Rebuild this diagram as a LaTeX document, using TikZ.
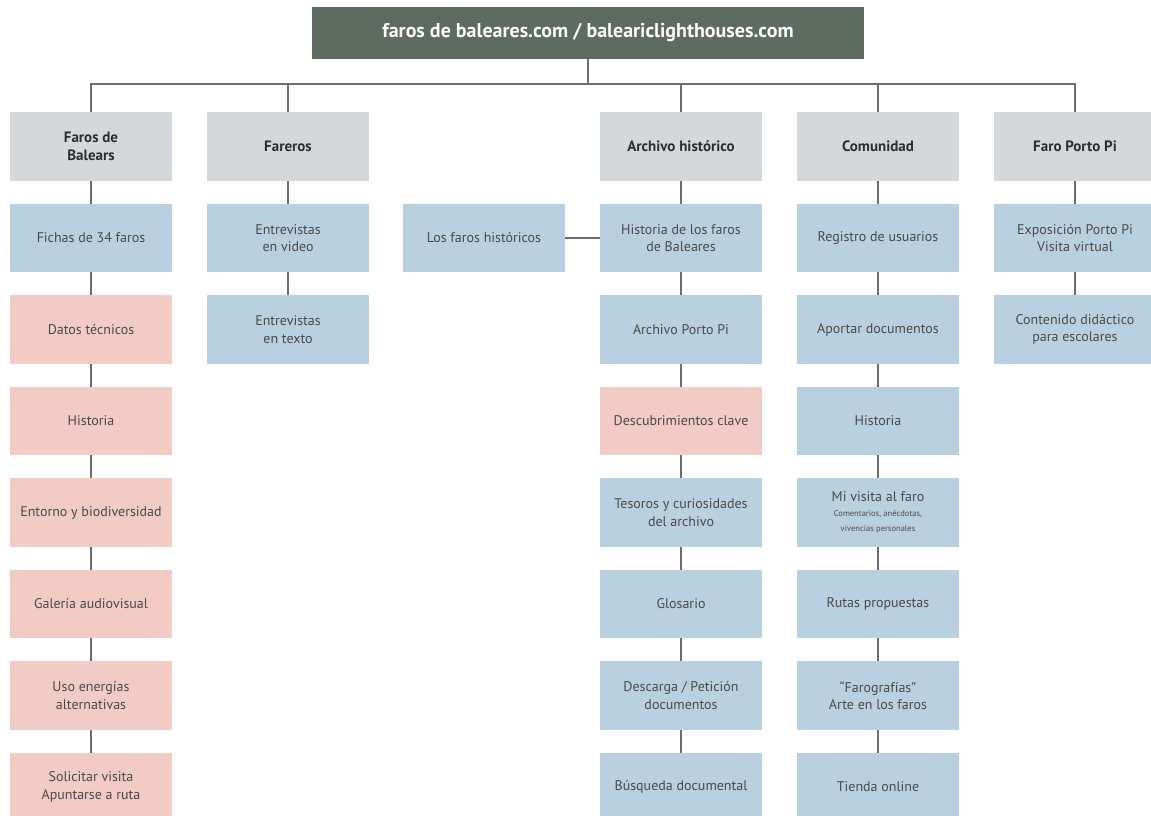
\documentclass[tikz,border=0pt]{standalone}
\usepackage{fontspec}
\setmainfont{PT Sans}
\begin{document}
\begin{tikzpicture}[x=1pt,y=-1pt,
  box/.style={draw=none,minimum width=162pt,minimum height=68.5pt,inner sep=0pt,align=center,
    font=\fontsize{14}{17.7}\selectfont,text=txtc},
  hdr/.style={box,fill=hdrc,text=hdrtxt,font=\fontsize{15}{18}\selectfont\bfseries},
  blu/.style={box,fill=bluc},
  pnk/.style={box,fill=pnkc},
  topbox/.style={fill=topc,minimum width=552pt,minimum height=52pt,inner sep=0pt,text=white,
    font=\fontsize{20}{24}\selectfont\bfseries},
  link/.style={draw=linec,line width=1.8pt}
]
\definecolor{hdrc}{HTML}{D5D8DB}
\definecolor{bluc}{HTML}{B9D0E0}
\definecolor{pnkc}{HTML}{F3CBC5}
\definecolor{topc}{HTML}{5E6B60}
\definecolor{linec}{HTML}{6E6E6E}
\definecolor{txtc}{HTML}{4A4A4A}
\definecolor{hdrtxt}{HTML}{2E2E2E}
\useasboundingbox (0,0) rectangle (1151,816);
\fill[white] (0,0) rectangle (1151,816);

\def\cA{91}\def\cB{288}\def\cC{484}\def\cD{681}\def\cE{878}\def\cF{1075}
\def\rO{146.5}\def\rI{238}\def\rII{329.5}\def\rIII{421}\def\rIV{512.5}\def\rV{604}\def\rVI{695.5}\def\rVII{787}

\node[topbox] (top) at (588,33) {faros de baleares.com / baleariclighthouses.com};
\coordinate (bus) at (588,84);

% column 1
\node[hdr] (a0) at (\cA,\rO) {Faros de\\Balears};
\node[blu] (a1) at (\cA,\rI) {Fichas de 34 faros};
\node[pnk] (a2) at (\cA,\rII) {Datos técnicos};
\node[pnk] (a3) at (\cA,\rIII) {Historia};
\node[pnk] (a4) at (\cA,\rIV) {Entorno y biodiversidad};
\node[pnk] (a5) at (\cA,\rV) {Galería audiovisual};
\node[pnk] (a6) at (\cA,\rVI) {Uso energías\\alternativas};
\node[pnk] (a7) at (\cA,\rVII) {Solicitar visita\\Apuntarse a ruta};

% column 2
\node[hdr] (b0) at (\cB,\rO) {Fareros};
\node[blu] (b1) at (\cB,\rI) {Entrevistas\\en video};
\node[blu] (b2) at (\cB,\rII) {Entrevistas\\en texto};

% column 3
\node[blu] (c1) at (\cC,\rI) {Los faros históricos};

% column 4
\node[hdr] (d0) at (\cD,\rO) {Archivo histórico};
\node[blu] (d1) at (\cD,\rI) {Historia de los faros\\de Baleares};
\node[blu] (d2) at (\cD,\rII) {Archivo Porto Pi};
\node[pnk] (d3) at (\cD,\rIII) {Descubrimientos clave};
\node[blu] (d4) at (\cD,\rIV) {Tesoros y curiosidades\\del archivo};
\node[blu] (d5) at (\cD,\rV) {Glosario};
\node[blu] (d6) at (\cD,\rVI) {Descarga / Petición\\documentos};
\node[blu] (d7) at (\cD,\rVII) {Búsqueda documental};

% column 5
\node[hdr] (e0) at (\cE,\rO) {Comunidad};
\node[blu] (e1) at (\cE,\rI) {Registro de usuarios};
\node[blu] (e2) at (\cE,\rII) {Aportar documentos};
\node[blu] (e3) at (\cE,\rIII) {Historia};
\node[blu] (e4) at (\cE,\rIV) {Mi visita al faro\\[-3pt]{\fontsize{8.5}{10}\selectfont Comentarios, anécdotas,}\\[-3pt]{\fontsize{8.5}{10}\selectfont vivencias personales}};
\node[blu] (e5) at (\cE,\rV) {Rutas propuestas};
\node[blu] (e6) at (\cE,\rVI) {“Farografías”\\Arte en los faros};
\node[blu] (e7) at (\cE,\rVII) {Tienda online};

% column 6
\node[hdr] (f0) at (\cF,\rO) {Faro Porto Pi};
\node[blu] (f1) at (\cF,\rI) {Exposición Porto Pi\\Visita virtual};
\node[blu] (f2) at (\cF,\rII) {Contenido didáctico\\para escolares};

% connectors
\draw[link] (top.south) -- (bus);
\draw[link] (a0.north) -- (a0.north |- bus) -- (f0.north |- bus) -- (f0.north);
\foreach \h in {b0,d0,e0}{\draw[link] (\h.north) -- (\h.north |- bus);}
\foreach \u/\v in {a0/a1,a1/a2,a2/a3,a3/a4,a4/a5,a5/a6,a6/a7,
  b0/b1,b1/b2,
  d0/d1,d1/d2,d2/d3,d3/d4,d4/d5,d5/d6,d6/d7,
  e0/e1,e1/e2,e2/e3,e3/e4,e4/e5,e5/e6,e6/e7,
  f0/f1,f1/f2}{\draw[link] (\u.south) -- (\v.north);}
\draw[link] (c1.east) -- (d1.west);
\end{tikzpicture}
\end{document}
